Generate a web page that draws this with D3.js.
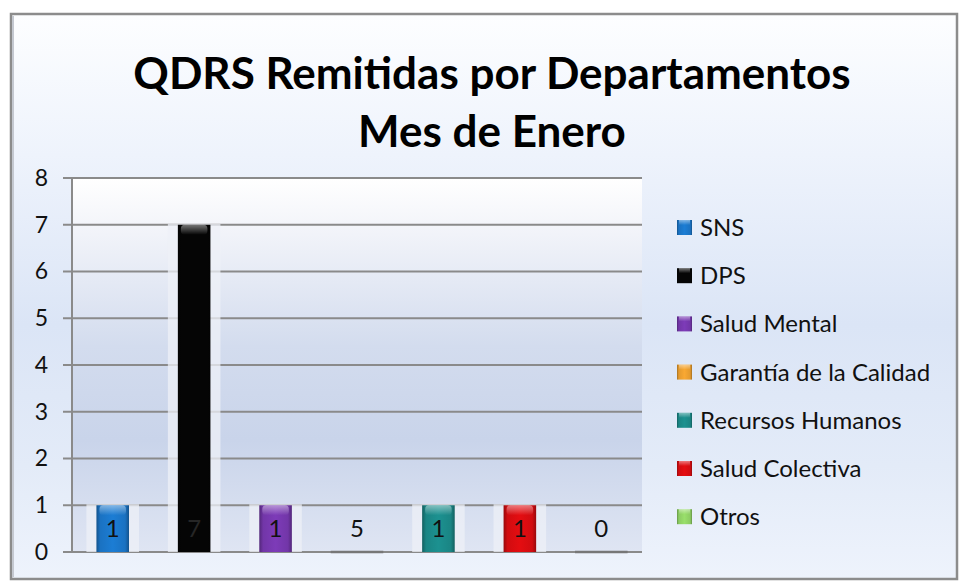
<!DOCTYPE html>
<html><head><meta charset="utf-8">
<script src="https://cdn.jsdelivr.net/npm/d3@7/dist/d3.min.js"></script>
<style>html,body{margin:0;padding:0;background:#fff;}svg{display:block;}</style>
</head><body><svg id="c" width="959" height="582"></svg>
<script>
const titleLines = ["QDRS Remitidas por Departamentos", "Mes de Enero"];
const categories = ["SNS","DPS","Salud Mental","Garantía de la Calidad","Recursos Humanos","Salud Colectiva","Otros"];
const values = [1, 7, 1, 0, 1, 1, 0];
const valueLabels = ["1","7","1","5","1","1","0"];
const colors = ["#1a72c2","#050505","#7236a8","#e49a2e","#1a8584","#d10c10","#8ccc62"];
const yTicks = [0,1,2,3,4,5,6,7,8];

const svg = d3.select("#c");
const defs = svg.append("defs");
const font = "Lato, 'Open Sans', sans-serif";

const bg = defs.append("linearGradient").attr("id","bg").attr("x1",0).attr("y1",0).attr("x2",0).attr("y2",1);
[[0,"#fdfeff"],[0.25,"#eef3fc"],[0.55,"#dbe5f6"],[0.8,"#e3ebf8"],[1,"#eef3fc"]].forEach(s=>bg.append("stop").attr("offset",s[0]).attr("stop-color",s[1]));
const pbg = defs.append("linearGradient").attr("id","pbg").attr("x1",0).attr("y1",0).attr("x2",0).attr("y2",1);
[[0,"#ffffff"],[0.15,"#f1f3f9"],[0.45,"#d3dcee"],[0.7,"#c9d4ea"],[1,"#dfe5f3"]].forEach(s=>pbg.append("stop").attr("offset",s[0]).attr("stop-color",s[1]));

svg.append("rect").attr("x",11).attr("y",14).attr("width",946).attr("height",565)
  .attr("fill","url(#bg)").attr("stroke","#8c8c8c").attr("stroke-width",2.5);
svg.append("line").attr("x1",13).attr("x2",13).attr("y1",16).attr("y2",577).attr("stroke","#c4c8d0").attr("stroke-width",2);

const x = d3.scaleBand().domain(categories).range([72,642]).paddingInner(0.6).paddingOuter(0.3);
const y = d3.scaleLinear().domain([0,8]).range([552,178]);

svg.append("rect").attr("x",72).attr("y",y(8)).attr("width",642-72).attr("height",y(0)-y(8)).attr("fill","url(#pbg)");

const gAxis = svg.append("g").attr("transform","translate(63,0)")
  .call(d3.axisLeft(y).tickValues(yTicks).tickSize(0).tickPadding(15).tickFormat(d3.format("d")));
gAxis.select(".domain").remove();
gAxis.selectAll("text").attr("font-family",font).attr("font-size",23).attr("fill","#111");
svg.append("g").selectAll("line").data(yTicks).join("line")
  .attr("x1",63).attr("x2",642).attr("y1",d=>y(d)).attr("y2",d=>y(d))
  .attr("stroke","#8a8a8a").attr("stroke-width",2);
svg.append("line").attr("x1",72).attr("x2",72).attr("y1",y(8)).attr("y2",y(0)).attr("stroke","#8a8a8a").attr("stroke-width",2);

colors.forEach((c,i)=>{
  const g = defs.append("linearGradient").attr("id","bar"+i).attr("x1",0).attr("x2",1).attr("y1",0).attr("y2",0);
  const dc = d3.color(c).darker(0.9), lc = d3.color(c).brighter(0.25);
  [[0,dc],[0.12,c],[0.5,lc],[0.88,c],[1,dc]].forEach(s=>g.append("stop").attr("offset",s[0]).attr("stop-color",s[1]));
});
const topG = defs.append("linearGradient").attr("id","topg").attr("x1",0).attr("x2",0).attr("y1",0).attr("y2",1);
[[0,"rgba(255,255,255,0.45)"],[1,"rgba(255,255,255,0)"]].forEach(s=>topG.append("stop").attr("offset",s[0]).attr("stop-color",s[1]));

const halo = 10;
const bars = svg.append("g").selectAll("g").data(categories).join("g");
bars.append("rect")
  .attr("x",d=>x(d)-halo).attr("width",x.bandwidth()+2*halo)
  .attr("y",(d,i)=>y(values[i])-1).attr("height",(d,i)=>y(0)-y(values[i])+1)
  .attr("fill","#edf0f7").attr("opacity",(d,i)=>values[i]>0?0.75:0);
bars.filter((d,i)=>values[i]===0).append("line")
  .attr("x1",d=>x(d)-halo).attr("x2",d=>x(d)+x.bandwidth()+halo)
  .attr("y1",y(0)).attr("y2",y(0)).attr("stroke","#777").attr("stroke-width",2.5);
bars.append("rect")
  .attr("x",d=>x(d)).attr("width",x.bandwidth())
  .attr("y",(d,i)=>y(values[i])).attr("height",(d,i)=>y(0)-y(values[i]))
  .attr("fill",(d,i)=>`url(#bar${i})`);
bars.append("rect")
  .attr("x",d=>x(d)+3).attr("width",x.bandwidth()-6)
  .attr("y",(d,i)=>y(values[i])).attr("height",(d,i)=>values[i]>0?10:0)
  .attr("rx",4).attr("fill","url(#topg)");
bars.append("text")
  .attr("x",d=>x(d)+x.bandwidth()/2).attr("y",y(0.5)+8)
  .attr("text-anchor","middle").attr("font-family",font).attr("font-size",24)
  .attr("fill",(d,i)=>i===1?"#262626":"#111").text((d,i)=>valueLabels[i]);

svg.append("g").selectAll("text").data(titleLines).join("text")
  .attr("x",492).attr("y",(d,i)=>89+i*58).attr("text-anchor","middle")
  .attr("font-family",font).attr("font-weight","bold").attr("font-size",44).attr("fill","#000")
  .text(d=>d);

const leg = svg.append("g").selectAll("g").data(categories).join("g")
  .attr("transform",(d,i)=>`translate(677,${228 + i*48.2})`);
leg.append("rect").attr("x",0).attr("y",-8).attr("width",15).attr("height",15).attr("fill",(d,i)=>`url(#bar${i})`);
leg.append("rect").attr("x",2).attr("y",-8).attr("width",11).attr("height",5).attr("fill","url(#topg)");
leg.append("text").attr("x",23).attr("y",8).attr("font-family",font).attr("font-size",24).attr("fill","#111").text(d=>d);
</script></body></html>
